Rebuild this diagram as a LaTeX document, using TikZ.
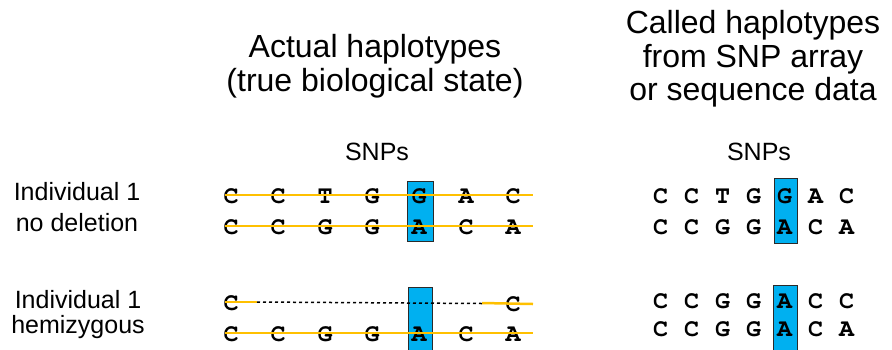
\documentclass[tikz,border=0pt]{standalone}
\usepackage[T1]{fontenc}
\usepackage{fontspec}
\setmainfont{Liberation Sans}
\definecolor{strand}{HTML}{FFC000}
\definecolor{snpfill}{HTML}{00B0F0}
\definecolor{snpedge}{HTML}{2A2A2A}
\newcommand{\seqfont}{\fontsize{25}{25}\usefont{T1}{pcr}{b}{n}}
\tikzset{
  title/.style={anchor=base, inner sep=0pt, font=\fontsize{32}{34}\selectfont},
  label/.style={anchor=base, inner sep=0pt, font=\fontsize{25}{30}\selectfont},
  base/.style={anchor=base, inner sep=0pt, font=\seqfont},
  strandline/.style={draw=strand, line width=2.5pt},
  gapline/.style={draw=black, line width=1.5pt, dash pattern=on 3pt off 3pt},
  snpbox/.style={draw=snpedge, fill=snpfill, line width=1pt}
}
\begin{document}
\begin{tikzpicture}[x=1pt,y=-1pt]
\useasboundingbox (0,0) rectangle (892,349);

% column headings
\node[title] (h1a) at (375,57) {Actual haplotypes};
\node[title] (h1b) at (375,91) {(true biological state)};
\node[title] (h2a) at (753,33) {Called haplotypes};
\node[title] (h2b) at (753,67) {from SNP array};
\node[title] (h2c) at (753,100) {or sequence data};
\node[label] (snp1) at (377,160) {SNPs};
\node[label] (snp2) at (759,160) {SNPs};

% row labels
\node[label] (r1a) at (77,200) {Individual 1};
\node[label] (r1b) at (77,231) {no deletion};
\node[label] (r2a) at (78,308) {Individual 1};
\node[label] (r2b) at (78,333) {hemizygous};

% highlighted SNP column
\path[snpbox] (407,181) rectangle (433,241);
\path[snpbox] (408,287) rectangle (432,352);
\path[snpbox] (774,178) rectangle (797,243);
\path[snpbox] (773,285) rectangle (797,352);

% actual haplotypes, no deletion
\foreach \b [count=\i] in {C,C,T,G,G,A,C}
  \node[base] (aa\i) at (231+47*\i-47,203) {\b};
\foreach \b [count=\i] in {C,C,G,G,A,C,A}
  \node[base] (ab\i) at (231+47*\i-47,234) {\b};
% actual haplotypes, hemizygous
\node[base] (ac1) at (231,310) {C};
\node[base] (ac7) at (513,311) {C};
\foreach \b [count=\i] in {C,C,G,G,A,C,A}
  \node[base] (ad\i) at (231+47*\i-47,341) {\b};

% called haplotypes
\foreach \b [count=\i] in {C,C,T,G,G,A,C}
  \node[base] (ca\i) at (660.5+31*\i-31,203) {\b};
\foreach \b [count=\i] in {C,C,G,G,A,C,A}
  \node[base] (cb\i) at (660.5+31*\i-31,234) {\b};
\foreach \b [count=\i] in {C,C,G,G,A,C,C}
  \node[base] (cc\i) at (660.5+31*\i-31,308) {\b};
\foreach \b [count=\i] in {C,C,G,G,A,C,A}
  \node[base] (cd\i) at (660.5+31*\i-31,336) {\b};

% chromosome strands
\coordinate (s1l) at (225,195);  \coordinate (s1r) at (533,195);
\coordinate (s2l) at (225,226);  \coordinate (s2r) at (533,226);
\coordinate (s4l) at (225,333);  \coordinate (s4r) at (533,333);
\coordinate (s3a) at (225,302);  \coordinate (s3b) at (257,302);
\coordinate (s3c) at (482,303);  \coordinate (s3d) at (533,304);
\path[strandline] (s1l) -- (s1r);
\path[strandline] (s2l) -- (s2r);
\path[strandline] (s4l) -- (s4r);
\path[strandline] (s3a) -- (s3b);
\path[strandline] (s3c) -- (s3d);
\path[gapline] (s3b) -- ([yshift=-0.5pt]s3c);
\end{tikzpicture}
\end{document}
